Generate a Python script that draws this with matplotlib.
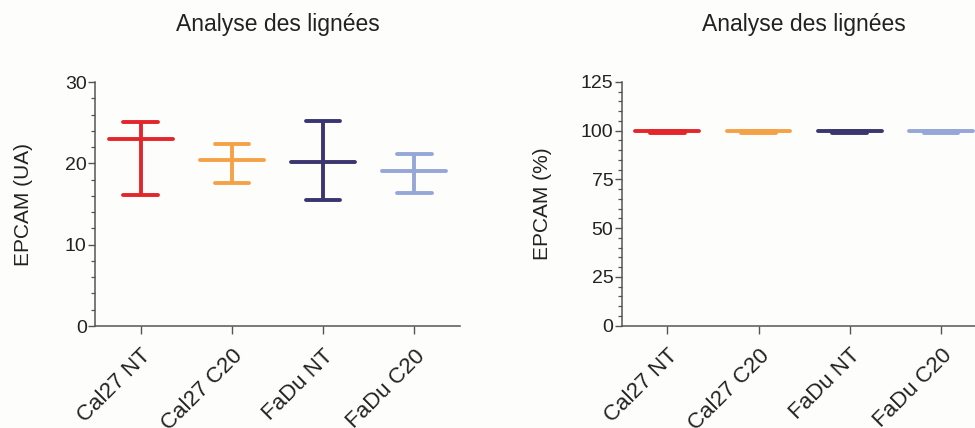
import numpy as np
import matplotlib.pyplot as plt
from matplotlib.ticker import MultipleLocator
from matplotlib.transforms import ScaledTranslation

plt.rcParams["font.family"] = ["Liberation Sans", "DejaVu Sans"]

# Données
lignees = ["Cal27 NT", "Cal27 C20", "FaDu NT", "FaDu C20"]
couleurs = ["#e2262b", "#f5a247", "#3b3570", "#95a7d8"]

# EPCAM (UA) : moyenne, minimum, maximum
ua_moy = [23.0, 20.4, 20.2, 19.0]
ua_min = [16.1, 17.6, 15.5, 16.3]
ua_max = [25.1, 22.4, 25.2, 21.2]

# EPCAM (%) : moyenne, minimum, maximum
pct_moy = [99.8, 99.6, 99.8, 99.6]
pct_min = [98.9, 98.8, 98.9, 98.8]
pct_max = [100.0, 100.0, 100.0, 100.0]


def trace_panneau(fig, ax, moy, vmin, vmax, ymax, major, minor, ylabel):
    x = np.arange(len(lignees))
    for i in x:
        c = couleurs[i]
        ax.plot([i, i], [vmin[i], vmax[i]], color=c, lw=2.8, solid_capstyle="butt")
        ax.plot([i - 0.19, i + 0.19], [vmin[i], vmin[i]], color=c, lw=2.8, solid_capstyle="round")
        ax.plot([i - 0.19, i + 0.19], [vmax[i], vmax[i]], color=c, lw=2.8, solid_capstyle="round")
        ax.plot([i - 0.35, i + 0.35], [moy[i], moy[i]], color=c, lw=2.8, solid_capstyle="round")

    ax.set_xlim(-0.5, 3.5)
    ax.set_ylim(0, ymax)
    ax.yaxis.set_major_locator(MultipleLocator(major))
    ax.yaxis.set_minor_locator(MultipleLocator(minor))
    ax.set_xticks(x)
    ax.set_xticklabels(lignees, rotation=45, ha="right", va="top",
                       rotation_mode="anchor", fontsize=16, color="#222222")
    decal = ScaledTranslation(-2 / 100, 0, fig.dpi_scale_trans)
    for lab in ax.get_xticklabels():
        lab.set_transform(lab.get_transform() + decal)

    for s in ["top", "right"]:
        ax.spines[s].set_visible(False)
    for s in ["left", "bottom"]:
        ax.spines[s].set_color("#555555")
        ax.spines[s].set_linewidth(1.1)

    ax.tick_params(axis="y", which="major", length=5, width=1.0, color="#555555",
                   labelsize=14, labelcolor="#222222", pad=1)
    ax.tick_params(axis="y", which="minor", length=3, width=0.9, color="#555555")
    ax.tick_params(axis="x", which="major", length=6, width=1.0, color="#555555", pad=8)

    ax.set_ylabel(ylabel, fontsize=15, color="#222222")
    ax.text(0.5, 1.235, "Analyse des lignées", transform=ax.transAxes,
            ha="center", va="center", fontsize=16.5, color="#222222")


fig = plt.figure(figsize=(9.75, 4.28), dpi=100)
fig.patch.set_facecolor("#fdfdfb")

ax1 = fig.add_axes([0.0974, 0.2383, 0.3744, 0.570])
ax2 = fig.add_axes([0.6376, 0.2390, 0.3744, 0.570])
for ax in (ax1, ax2):
    ax.set_facecolor("none")

trace_panneau(fig, ax1, ua_moy, ua_min, ua_max, 30, 10, 2, "EPCAM (UA)")
trace_panneau(fig, ax2, pct_moy, pct_min, pct_max, 125, 25, 5, "EPCAM (%)")

ax1.yaxis.set_label_coords(-0.17, 0.5)
ax2.yaxis.set_label_coords(-0.19, 0.5)

fig.savefig("out.png", dpi=100, facecolor=fig.get_facecolor())
